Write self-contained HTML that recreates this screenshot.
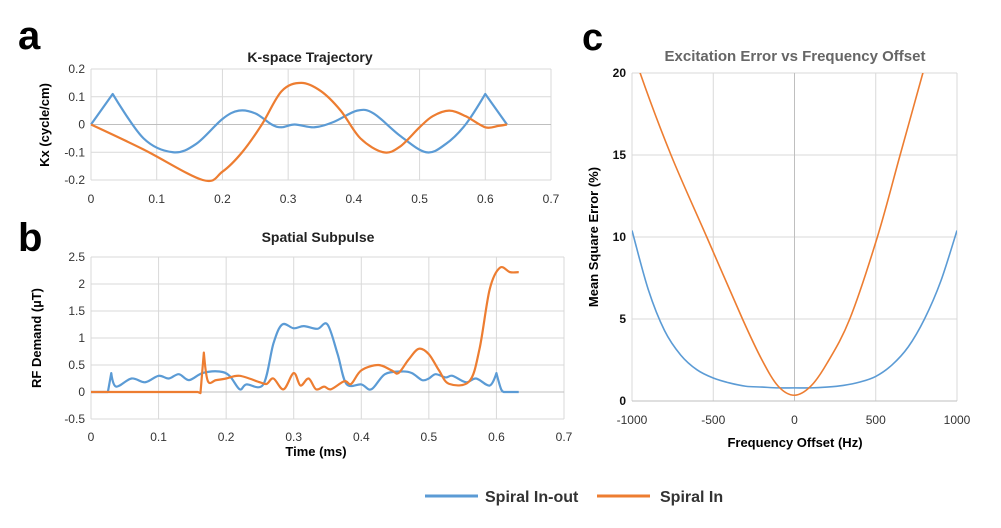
<!DOCTYPE html>
<html><head><meta charset="utf-8"><style>
body{margin:0;background:#fff;font-family:"Liberation Sans",sans-serif}
svg text{font-family:"Liberation Sans",sans-serif}
</style></head><body>
<svg id="s" width="1001" height="523" xmlns="http://www.w3.org/2000/svg">
<text x="18" y="49" font-size="40" font-weight="bold">a</text>
<text x="18" y="251" font-size="40" font-weight="bold">b</text>
<text x="582" y="50" font-size="38" font-weight="bold">c</text>
<text x="310" y="62" font-size="14" font-weight="bold" text-anchor="middle" fill="#222">K-space Trajectory</text>
<text x="318" y="242" font-size="14" font-weight="bold" text-anchor="middle" fill="#222">Spatial Subpulse</text>
<text x="795" y="61" font-size="15" font-weight="bold" text-anchor="middle" fill="#666">Excitation Error vs Frequency Offset</text>
<text transform="translate(49,125) rotate(-90)" font-size="13" font-weight="bold" text-anchor="middle">Kx (cycle/cm)</text>
<text transform="translate(41,338) rotate(-90)" font-size="13" font-weight="bold" text-anchor="middle">RF Demand (µT)</text>
<text x="316" y="456" font-size="13" font-weight="bold" text-anchor="middle">Time (ms)</text>
<text transform="translate(598,237) rotate(-90)" font-size="13" font-weight="bold" text-anchor="middle">Mean Square Error (%)</text>
<text x="795" y="447" font-size="13" font-weight="bold" text-anchor="middle">Frequency Offset (Hz)</text>
<line x1="425" y1="496" x2="478" y2="496" stroke="#5b9bd5" stroke-width="3"/>
<text x="485" y="502" font-size="16" font-weight="bold" fill="#333">Spiral In-out</text>
<line x1="597" y1="496" x2="650" y2="496" stroke="#ed7d31" stroke-width="3"/>
<text x="660" y="502" font-size="16" font-weight="bold" fill="#333">Spiral In</text>
<defs><clipPath id="cc"><rect x="632" y="73" width="325" height="328"/></clipPath></defs>
</svg>
<script>
const aTicksX=[0,0.1,0.2,0.3,0.4,0.5,0.6,0.7];
const aTicksY=[-0.2,-0.1,0,0.1,0.2];
const aBlueT=[0,0.033,0.08,0.125,0.16,0.2,0.225,0.25,0.275,0.29,0.31,0.34,0.37,0.405,0.43,0.47,0.51,0.54,0.57,0.6,0.633];
const aBlueV=[0,0.11,-0.05,-0.1,-0.07,0.02,0.05,0.04,0,-0.01,0,-0.01,0.01,0.05,0.04,-0.04,-0.1,-0.07,0,0.11,0];
const aOrT=[0,0.08,0.17,0.2,0.23,0.26,0.29,0.32,0.35,0.38,0.41,0.445,0.47,0.5,0.52,0.545,0.57,0.6,0.62,0.633];
const aOrV=[0,-0.09,-0.2,-0.17,-0.1,0,0.12,0.15,0.12,0.05,-0.05,-0.1,-0.08,-0.01,0.03,0.05,0.03,-0.01,-0.005,0];
const bTicksY=[-0.5,0,0.5,1,1.5,2,2.5];
const bBlueT=[0,0.025,0.03,0.037,0.06,0.08,0.1,0.115,0.13,0.145,0.165,0.19,0.205,0.22,0.23,0.255,0.27,0.283,0.3,0.315,0.335,0.35,0.365,0.378,0.4,0.415,0.435,0.46,0.475,0.49,0.5,0.51,0.525,0.535,0.555,0.57,0.59,0.6,0.607,0.612,0.633];
const bBlueV=[0,0,0.35,0.1,0.25,0.18,0.3,0.25,0.33,0.22,0.35,0.38,0.3,0.05,0.14,0.14,0.9,1.25,1.18,1.22,1.17,1.25,0.7,0.15,0.14,0.05,0.33,0.38,0.35,0.22,0.25,0.33,0.27,0.3,0.18,0.25,0.12,0.35,0.05,0,0];
const bOrT=[0,0.158,0.162,0.167,0.173,0.185,0.2,0.22,0.25,0.26,0.27,0.285,0.3,0.31,0.322,0.333,0.345,0.355,0.375,0.385,0.4,0.425,0.445,0.455,0.47,0.485,0.5,0.515,0.53,0.56,0.575,0.59,0.605,0.62,0.633];
const bOrV=[0,0,-0.02,0.73,0.2,0.22,0.25,0.3,0.18,0.15,0.25,0.05,0.35,0.12,0.25,0.05,0.1,0.05,0.2,0.15,0.4,0.5,0.4,0.35,0.6,0.8,0.7,0.4,0.15,0.2,0.8,1.9,2.3,2.22,2.22];
const cTicksX=[-1000,-500,0,500,1000];
const cTicksY=[0,5,10,15,20];
const cBlueF=[-1000,-900,-800,-700,-600,-500,-400,-300,-200,-100,0,100,200,300,400,500,600,700,800,900,1000];
const cBlueV=[10.4,6.8,4.3,2.8,1.9,1.4,1.1,0.9,0.85,0.8,0.8,0.8,0.85,0.95,1.15,1.5,2.2,3.3,5,7.3,10.4];
const cOrF=[-1000,-950,-760,-540,-320,-200,-100,0,100,200,340,510,650,790,830];
const cOrV=[21.8,20,15,10,5,2.5,0.9,0.35,0.9,2.3,5,10,15,20,21.5];

const S=document.getElementById('s'),NS='http://www.w3.org/2000/svg';
function el(t,a){const e=document.createElementNS(NS,t);for(const k in a)e.setAttribute(k,a[k]);S.appendChild(e);return e;}
function lin(d0,d1,r0,r1){return v=>r0+(v-d0)/(d1-d0)*(r1-r0);}
function path(xs,ys,fx,fy,corners){const p=xs.map((x,i)=>[fx(x),fy(ys[i])]);const C=corners||[];
const sharp=i=>C.indexOf(xs[i])>=0;let d='M'+p[0][0]+','+p[0][1];
for(let i=0;i<p.length-1;i++){const p0=p[i-1]||p[i],p1=p[i],p2=p[i+1],p3=p[i+2]||p2;const t=6;
let c1=sharp(i)?p1:[p1[0]+(p2[0]-p0[0])/t,p1[1]+(p2[1]-p0[1])/t];
let c2=sharp(i+1)?p2:[p2[0]-(p3[0]-p1[0])/t,p2[1]-(p3[1]-p1[1])/t];
d+=` C${c1[0]},${c1[1]} ${c2[0]},${c2[1]} ${p2[0]},${p2[1]}`;}return d;}
function axes(fx,fy,xt,yt,x0,x1,y0,y1,zero,tx,pref,bold){
  xt.forEach(v=>{const l=el('line',{x1:fx(v),x2:fx(v),y1:y0,y2:y1,stroke:'#d9d9d9'});
  
  const t=el('text',{x:fx(v),y:tx,'font-size':12,'text-anchor':'middle',fill:'#333'});t.textContent=v;
  });
  yt.forEach(v=>{const l=el('line',{x1:x0,x2:x1,y1:fy(v),y2:fy(v),stroke:v===zero?'#bfbfbf':'#d9d9d9'});
  
  const t=el('text',{x:x0-6,y:fy(v)+4,'font-size':12,'text-anchor':'end',fill:bold?'#111':'#333','font-weight':bold?'bold':'normal'});t.textContent=v;
  });
}
function series(xs,ys,fx,fy,col,name,w,clip,corners){const p=el('path',{d:path(xs,ys,fx,fy,corners),fill:'none',stroke:col,'stroke-width':w,'stroke-linejoin':'round'});if(clip)p.setAttribute('clip-path','url(#cc)');
}
// a
let ax=lin(0,0.7,91,551),ay=lin(-0.2,0.2,180,69);
axes(ax,ay,aTicksX,aTicksY,91,551,69,180,0,203,'a',false);
series(aBlueT,aBlueV,ax,ay,'#5b9bd5','a-spiral-in-out-line',2.2,false,[0,0.033,0.6,0.633]);
series(aOrT,aOrV,ax,ay,'#ed7d31','a-spiral-in-line',2.2,false,[0,0.633]);
// b
let bx=lin(0,0.7,91,564),by=lin(-0.5,2.5,419,257);
axes(bx,by,aTicksX,bTicksY,91,564,257,419,0,441,'b',false);
series(bBlueT,bBlueV,bx,by,'#5b9bd5','b-spiral-in-out-line',2.2,false,[0,0.025,0.03,0.6,0.612,0.633]);
series(bOrT,bOrV,bx,by,'#ed7d31','b-spiral-in-line',2.2,false,[0,0.158,0.162,0.167]);
// c
let cx=lin(-1000,1000,632,957),cy=lin(0,20,401,73);
axes(cx,cy,cTicksX,cTicksY,632,957,73,401,0,424,'c',true);
const zl=el('line',{x1:cx(0),x2:cx(0),y1:73,y2:401,stroke:'#bfbfbf'});

series(cBlueF,cBlueV,cx,cy,'#5b9bd5','c-spiral-in-out-line',1.6,true);
series(cOrF,cOrV,cx,cy,'#ed7d31','c-spiral-in-line',1.6,true);
</script>
</body></html>
